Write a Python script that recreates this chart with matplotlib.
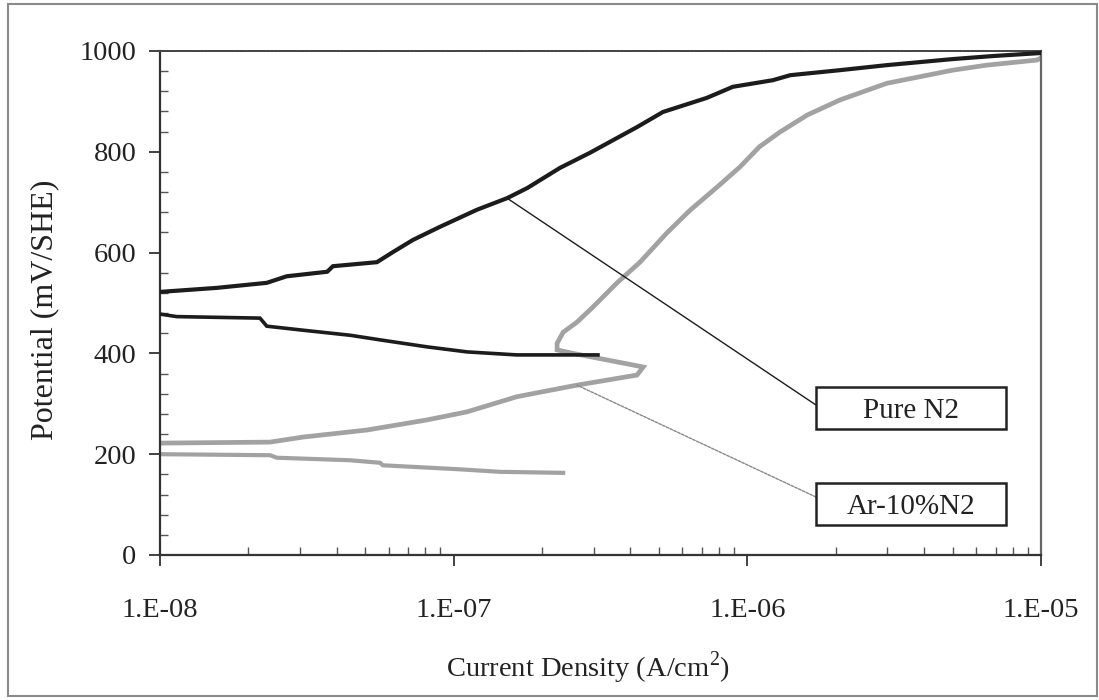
import matplotlib
matplotlib.use("Agg")
import matplotlib.pyplot as plt
from matplotlib.patches import Rectangle
from matplotlib.ticker import LogLocator, MultipleLocator, NullFormatter, FixedLocator

plt.rcParams['font.family'] = ['Liberation Serif', 'DejaVu Serif']
plt.rcParams['mathtext.fontset'] = 'custom'
plt.rcParams['mathtext.rm'] = 'Liberation Serif'

# ---- data (current density A/cm2, potential mV/SHE) ----
n2_anodic_i = [1.0e-8, 1.56e-8, 2.31e-8, 2.70e-8, 3.71e-8, 3.88e-8, 5.48e-8, 6.21e-8,
               7.26e-8, 8.97e-8, 1.20e-7, 1.52e-7, 1.78e-7, 2.30e-7, 2.91e-7, 4.21e-7,
               5.16e-7, 7.28e-7, 8.93e-7, 1.22e-6, 1.40e-6, 2.07e-6, 2.99e-6, 5.01e-6,
               6.86e-6, 1.0e-5]
n2_anodic_e = [522, 530, 540, 553, 562, 573, 581, 601, 625, 651, 685, 708, 728, 768, 798,
               849, 879, 907, 929, 942, 952, 962, 972, 984, 990, 996]

n2_cathodic_i = [1.0e-8, 1.14e-8, 2.19e-8, 2.31e-8, 3.07e-8, 4.44e-8, 5.74e-8, 8.11e-8,
                 1.11e-7, 1.64e-7, 3.10e-7]
n2_cathodic_e = [478, 473, 470, 454, 446, 436, 426, 413, 403, 397, 397]

ar_anodic_i = [1.0e-8, 2.37e-8, 3.07e-8, 5.07e-8, 8.11e-8, 1.11e-7, 1.64e-7, 1.97e-7,
               2.63e-7, 4.21e-7, 4.42e-7, 4.08e-7, 2.55e-7, 2.25e-7, 2.25e-7, 2.36e-7,
               2.63e-7, 2.98e-7, 3.60e-7, 4.31e-7, 5.32e-7, 6.38e-7, 7.89e-7, 9.44e-7,
               1.10e-6, 1.29e-6, 1.60e-6, 2.07e-6, 2.99e-6, 5.01e-6, 6.55e-6, 9.68e-6, 1.0e-5]
ar_anodic_e = [222, 224, 234, 248, 268, 284, 314, 323, 337, 357, 373, 377, 400, 407, 420,
               442, 462, 492, 540, 581, 639, 684, 730, 770, 810, 839, 873, 903, 936, 962,
               972, 982, 986]

ar_cathodic_i = [1.0e-8, 2.37e-8, 2.50e-8, 4.44e-8, 5.61e-8, 5.74e-8, 1.05e-7, 1.44e-7, 2.36e-7]
ar_cathodic_e = [200, 198, 193, 188, 183, 178, 170, 165, 163]

x_ticks = [1e-8, 1e-7, 1e-6, 1e-5]
x_tick_labels = ['1.E-08', '1.E-07', '1.E-06', '1.E-05']
y_ticks = [0, 200, 400, 600, 800, 1000]
series_labels = ['Pure N2', 'Ar-10%N2']

# ---- figure ----
W, H = 1099, 700
fig = plt.figure(figsize=(W / 100, H / 100), dpi=100)
fig.patch.set_facecolor('white')
ax = fig.add_axes([160 / W, (H - 555) / H, 881 / W, 504 / H])

black = '#1c1c1c'
gray = '#a2a2a2'

ax.plot(ar_cathodic_i, ar_cathodic_e, color=gray, lw=3.0, solid_joinstyle='miter', zorder=2)
ax.plot(ar_anodic_i, ar_anodic_e, color=gray, lw=3.4, solid_joinstyle='miter', zorder=2)
ax.plot(n2_cathodic_i, n2_cathodic_e, color=black, lw=2.6, solid_joinstyle='miter', zorder=3)
ax.plot(n2_anodic_i, n2_anodic_e, color=black, lw=3.0, solid_joinstyle='miter', zorder=3)

ax.set_xscale('log')
ax.set_xlim(1e-8, 1e-5)
ax.set_ylim(0, 1000)

ax.xaxis.set_major_locator(FixedLocator(x_ticks))
ax.set_xticklabels(x_tick_labels)
ax.xaxis.set_minor_locator(LogLocator(base=10, subs=[2, 3, 4, 5, 6, 7, 8, 9], numticks=20))
ax.xaxis.set_minor_formatter(NullFormatter())
ax.set_yticks(y_ticks)
ax.yaxis.set_minor_locator(MultipleLocator(40))

ax.tick_params(which='major', direction='out', length=8, width=1.3, color='#333333',
               labelsize=20.5, labelcolor='#222222')
ax.tick_params(axis='x', which='major', pad=23)
ax.tick_params(axis='y', which='major', pad=9)
ax.tick_params(which='minor', direction='in', length=6, width=1.0, color='#555555')

for side in ['left', 'bottom']:
    ax.spines[side].set_color('#333333')
    ax.spines[side].set_linewidth(1.6)
ax.spines['right'].set_color('#666666')
ax.spines['right'].set_linewidth(1.6)
ax.spines['top'].set_color('#444444')
ax.spines['top'].set_linewidth(1.4)
ax.spines['top'].set_linestyle((0, (1.2, 0.8)))

# ---- labelled boxes with leader lines ----
box_x0, box_w, box_h = 0.7446, 0.2157, 0.0833
boxes = [
    (series_labels[0], 0.250, (n2_anodic_i[11], n2_anodic_e[11]), 0.2976, black, '-', 1.0),
    (series_labels[1], 0.0595, (ar_anodic_i[8], ar_anodic_e[8]), 0.115, '#888888', (0, (2, 1)), 1.0),
]
for label, y0, pt, yl, lc, ls, lw in boxes:
    ax.annotate('', xy=pt, xycoords='data', xytext=(box_x0, yl), textcoords='axes fraction',
                arrowprops=dict(arrowstyle='-', color=lc, lw=lw, linestyle=ls,
                                shrinkA=0, shrinkB=0), zorder=4)
    ax.add_patch(Rectangle((box_x0, y0), box_w, box_h, transform=ax.transAxes,
                           facecolor='white', edgecolor='#222222', lw=1.8, zorder=5))
    ax.text(box_x0 + box_w / 2, y0 + box_h / 2 - 0.005, label, transform=ax.transAxes,
            ha='center', va='center', fontsize=21, color='#222222', zorder=6)

# ---- axis titles ----
fig.text(45 / W, 1 - 310 / H, 'Potential (mV/SHE)', rotation=90, ha='center', va='center',
         fontsize=23, color='#222222')
fig.text(588 / W, 1 - 668 / H, r'Current Density (A/cm$^{\mathrm{2}}$)', ha='center',
         va='center', fontsize=20.5, color='#222222')

# ---- outer frame ----
fig.patches.append(Rectangle((8 / W, 4 / H), (1097 - 8) / W, (696 - 4) / H,
                             transform=fig.transFigure, fill=False, edgecolor='#8a8a8a',
                             lw=1.5))

fig.savefig('out.png', dpi=100, facecolor='white')
